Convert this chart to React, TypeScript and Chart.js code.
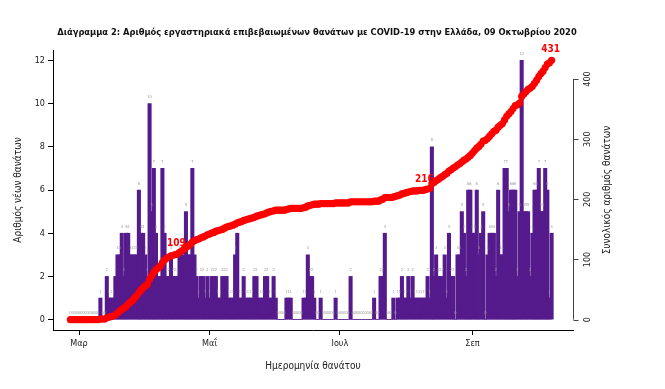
import React, { useEffect, useRef } from 'react';
import { Chart, registerables } from 'chart.js';

Chart.register(...registerables);

// Day 0 = 26 Feb 2020, one value per day up to 8 Oct 2020
const dailyDeaths = [
  0, 0, 0, 0, 0, 0, 0, 0, 0, 0,
  0, 0, 0, 0, 1, 0, 0, 2, 1, 1,
  1, 2, 3, 3, 4, 2, 4, 4, 3, 3,
  3, 3, 6, 4, 4, 3, 2, 10, 5, 7,
  4, 2, 2, 7, 4, 2, 2, 3, 2, 2,
  2, 3, 3, 3, 5, 3, 3, 7, 3, 2,
  1, 2, 2, 1, 2, 1, 2, 2, 2, 1,
  1, 2, 2, 2, 1, 1, 1, 3, 4, 1,
  1, 2, 1, 1, 1, 1, 2, 2, 1, 1,
  1, 2, 2, 1, 1, 2, 1, 0, 0, 0,
  0, 1, 1, 1, 0, 0, 0, 0, 0, 1,
  1, 3, 2, 2, 1, 0, 0, 1, 0, 0,
  0, 0, 0, 0, 1, 0, 0, 0, 0, 0,
  0, 2, 0, 0, 0, 0, 0, 0, 0, 0,
  0, 0, 1, 0, 0, 2, 2, 4, 0, 0,
  0, 1, 0, 1, 1, 2, 1, 1, 2, 1,
  2, 1, 1, 1, 1, 1, 1, 2, 1, 8,
  2, 3, 2, 2, 2, 3, 1, 4, 2, 2,
  0, 3, 3, 5, 4, 2, 6, 6, 4, 4,
  6, 3, 4, 5, 0, 3, 4, 4, 4, 2,
  6, 3, 3, 7, 7, 5, 6, 6, 6, 2,
  5, 12, 5, 5, 5, 2, 4, 6, 6, 7,
  5, 5, 7, 6, 1, 4,
];

const totalDeaths = [
  0, 0, 0, 0, 0, 0, 0, 0, 0, 0,
  0, 0, 0, 0, 1, 1, 1, 3, 4, 5,
  6, 8, 11, 14, 17, 19, 22, 26, 29, 32,
  36, 40, 45, 49, 53, 56, 59, 67, 73, 79,
  83, 86, 89, 95, 99, 102, 104, 106, 107, 108,
  109, 112, 114, 117, 120, 122, 125, 129, 131, 133,
  134, 136, 137, 139, 141, 142, 144, 145, 147, 148,
  149, 150, 152, 154, 155, 156, 157, 159, 161, 162,
  163, 165, 166, 167, 168, 169, 170, 172, 173, 174,
  175, 176, 178, 179, 180, 181, 182, 182, 182, 182,
  182, 183, 184, 185, 185, 185, 185, 185, 185, 186,
  187, 189, 190, 191, 192, 192, 192, 193, 193, 193,
  193, 193, 193, 193, 194, 194, 194, 194, 194, 194,
  194, 196, 196, 196, 196, 196, 196, 196, 196, 196,
  196, 196, 197, 197, 197, 199, 200, 203, 203, 203,
  203, 204, 205, 206, 207, 209, 210, 211, 212, 213,
  214, 214, 214, 215, 215, 215, 216, 217, 218, 226,
  228, 231, 233, 236, 238, 241, 243, 247, 249, 252,
  254, 257, 259, 262, 265, 267, 270, 273, 277, 281,
  285, 288, 292, 297, 298, 301, 305, 309, 313, 315,
  320, 323, 326, 332, 338, 342, 346, 351, 356, 357,
  360, 371, 375, 379, 383, 385, 388, 393, 398, 404,
  409, 413, 419, 425, 427, 431,
];

const monthTickDays = [4, 65, 126, 188];
const monthTickLabels = ['Μαρ', 'Μαΐ', 'Ιουλ', 'Σεπ'];
const leftTicks = [0, 2, 4, 6, 8, 10, 12];
const rightTicks = [0, 100, 200, 300, 400];
const annotatedTotals = [109, 216, 431];

const titleText =
  'Διάγραμμα 2: Αριθμός εργαστηριακά επιβεβαιωμένων θανάτων με COVID-19 στην Ελλάδα, 09 Οκτωβρίου 2020';
const xTitle = 'Ημερομηνία θανάτου';
const yTitle = 'Αριθμός νέων θανάτων';
const y2Title = 'Συνολικός αριθμός θανάτων';

const FONT = "'Liberation Sans Narrow', 'DejaVu Sans Condensed', 'Liberation Sans', sans-serif";
const BAR_COLOR = '#551A8B';
const LINE_COLOR = '#ff0000';
const TEXT_COLOR = '#222222';

export default function App() {
  const ref = useRef<HTMLCanvasElement>(null);

  useEffect(() => {
    const canvas = ref.current;
    if (!canvas) return;

    const valueLabels = {
      id: 'valueLabels',
      afterDatasetDraw(chart: any, args: any) {
        if (args.index !== 0) return;
        const ctx = chart.ctx;
        const xs = chart.scales.x;
        const ys = chart.scales.y;
        ctx.save();
        ctx.fillStyle = '#9a9a9a';
        ctx.font = `4px ${FONT}`;
        ctx.textAlign = 'center';
        ctx.textBaseline = 'middle';
        dailyDeaths.forEach((v, i) => {
          ctx.fillText(String(v), xs.getPixelForValue(i), ys.getPixelForValue(v) - 6.5);
        });
        ctx.restore();
      },
    };

    const decor = {
      id: 'decor',
      afterDraw(chart: any) {
        const ctx = chart.ctx;
        const area = chart.chartArea;
        const xs = chart.scales.x;
        const ys2 = chart.scales.y2;
        ctx.save();

        // red milestone labels on the cumulative line
        ctx.fillStyle = LINE_COLOR;
        ctx.font = `bold 10px ${FONT}`;
        ctx.textAlign = 'center';
        ctx.textBaseline = 'middle';
        annotatedTotals.forEach((t) => {
          const idx = totalDeaths.findIndex((v) => v >= t);
          if (idx < 0) return;
          const px = xs.getPixelForValue(idx);
          const py = ys2.getPixelForValue(totalDeaths[idx]);
          ctx.fillText(String(t), px - 1, py - 10.5);
        });

        // title, fitted to the reference width
        ctx.fillStyle = '#111';
        ctx.font = `bold 12px ${FONT}`;
        const w = ctx.measureText(titleText).width;
        const size = (12 * 520) / w;
        ctx.font = `bold ${size.toFixed(2)}px ${FONT}`;
        ctx.fillText(titleText, 317, 33);

        // axis titles
        ctx.fillStyle = TEXT_COLOR;
        ctx.font = `10px ${FONT}`;
        const midY = (area.top + area.bottom) / 2;
        const midX = (area.left + area.right) / 2;
        ctx.fillText(xTitle, midX, 366);
        ctx.save();
        ctx.translate(18, midY);
        ctx.rotate(-Math.PI / 2);
        ctx.fillText(yTitle, 0, 0);
        ctx.restore();
        ctx.save();
        ctx.translate(607, midY);
        ctx.rotate(-Math.PI / 2);
        ctx.fillText(y2Title, 0, 0);
        ctx.restore();

        // right axis
        const x0 = Math.round(area.right) + 0.5;
        const yTop = ys2.getPixelForValue(rightTicks[rightTicks.length - 1]);
        const yBot = ys2.getPixelForValue(rightTicks[0]);
        ctx.strokeStyle = '#444';
        ctx.lineWidth = 1;
        ctx.beginPath();
        ctx.moveTo(x0, yTop);
        ctx.lineTo(x0, yBot);
        rightTicks.forEach((t) => {
          const py = Math.round(ys2.getPixelForValue(t)) + 0.5;
          ctx.moveTo(x0, py);
          ctx.lineTo(x0 + 5, py);
        });
        ctx.stroke();
        ctx.font = `9px ${FONT}`;
        ctx.fillStyle = TEXT_COLOR;
        rightTicks.forEach((t) => {
          const py = ys2.getPixelForValue(t);
          ctx.save();
          ctx.translate(588, py);
          ctx.rotate(-Math.PI / 2);
          ctx.fillText(String(t), 0, 0);
          ctx.restore();
        });
        ctx.restore();
      },
    };

    const chart = new Chart(canvas, {
      type: 'bar',
      data: {
        datasets: [
          {
            type: 'bar',
            data: dailyDeaths.map((v, i) => ({ x: i, y: v })),
            backgroundColor: BAR_COLOR,
            borderWidth: 0,
            barThickness: 3.4,
            yAxisID: 'y',
            order: 1,
          } as any,
          {
            type: 'line',
            data: totalDeaths.map((v, i) => ({ x: i, y: v })),
            borderColor: LINE_COLOR,
            borderWidth: 4,
            pointRadius: 3.6,
            pointBackgroundColor: LINE_COLOR,
            pointBorderWidth: 0,
            tension: 0,
            yAxisID: 'y2',
            order: 0,
          } as any,
        ],
      },
      options: {
        animation: false,
        responsive: false,
        devicePixelRatio: 1,
        layout: { padding: { left: 0, right: 92, top: 50, bottom: 0 } },
        plugins: {
          legend: { display: false },
          tooltip: { enabled: false },
          title: { display: false },
        },
        scales: {
          x: {
            type: 'linear',
            min: -8.16,
            max: 235,
            offset: false,
            grid: {
              display: true,
              offset: false,
              drawOnChartArea: false,
              drawTicks: true,
              tickLength: 5,
              color: '#000',
            },
            border: { display: true, color: '#000', width: 1 },
            ticks: {
              autoSkip: false,
              maxRotation: 0,
              padding: 3,
              color: TEXT_COLOR,
              font: { family: FONT, size: 9 },
              callback: (v: any) => {
                const k = monthTickDays.indexOf(Number(v));
                return k >= 0 ? monthTickLabels[k] : '';
              },
            },
            afterBuildTicks: (scale: any) => {
              scale.ticks = monthTickDays.map((v) => ({ value: v }));
            },
            afterFit: (scale: any) => {
              scale.height = 59;
            },
          },
          y: {
            type: 'linear',
            position: 'left',
            min: -0.48,
            max: 12.48,
            grid: {
              display: true,
              drawOnChartArea: false,
              drawTicks: true,
              tickLength: 5,
              color: '#000',
            },
            border: { display: true, color: '#000', width: 1 },
            ticks: {
              padding: 3,
              color: TEXT_COLOR,
              font: { family: FONT, size: 9 },
            },
            afterBuildTicks: (scale: any) => {
              scale.ticks = leftTicks.map((v) => ({ value: v }));
            },
            afterFit: (scale: any) => {
              scale.width = 53;
            },
          },
          y2: {
            type: 'linear',
            position: 'right',
            display: false,
            min: -17.24,
            max: 448.24,
          },
        },
      } as any,
      plugins: [valueLabels, decor],
    });

    return () => chart.destroy();
  }, []);

  return (
    <div style={{ position: 'fixed', left: 0, top: 0, width: 665, height: 389, background: '#fff' }}>
      <canvas ref={ref} width={665} height={389} style={{ display: 'block', width: 665, height: 389 }} />
    </div>
  );
}
